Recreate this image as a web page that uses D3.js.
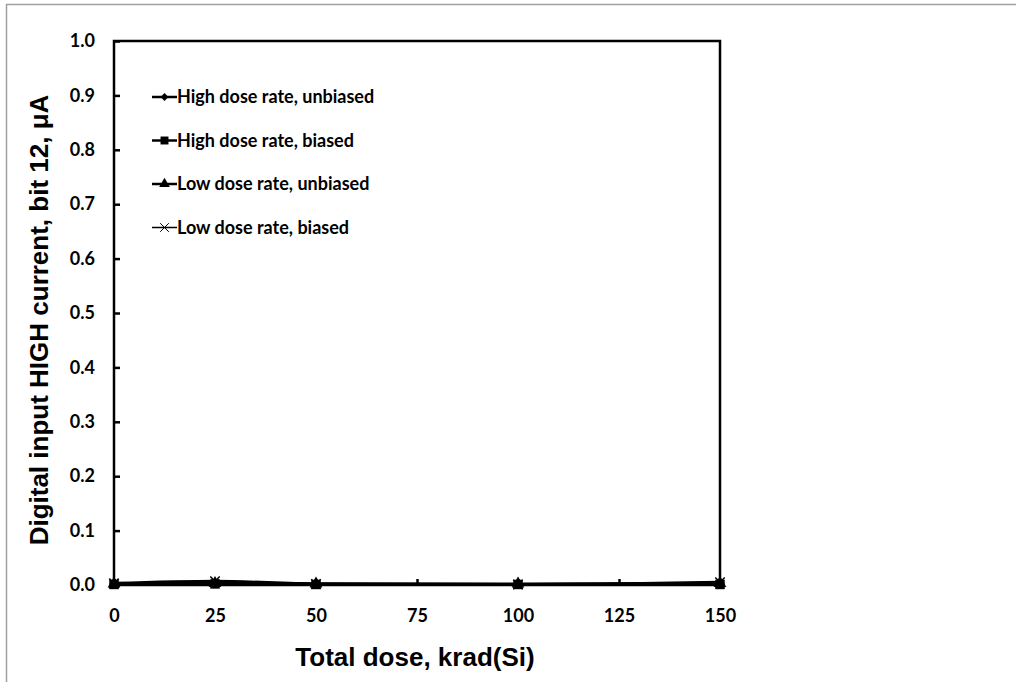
<!DOCTYPE html>
<html>
<head>
<meta charset="utf-8">
<script src="https://cdn.jsdelivr.net/npm/d3@7"></script>
<style>
  body { margin: 0; background: #fff; }
</style>
</head>
<body>
<div id="wrapper"></div>
<script>
const doses = [0, 25, 50, 100, 150];
const seriesNames = [
  'High dose rate, unbiased',
  'High dose rate, biased',
  'Low dose rate, unbiased',
  'Low dose rate, biased'
];
const hdrUnbiased = [0.002, 0.003, 0.002, 0.001, 0.002];
const hdrBiased = [0.001, 0.002, 0.001, 0.001, 0.001];
const ldrUnbiased = [0.002, 0.003, 0.002, 0.002, 0.003];
const ldrBiased = [0.003, 0.007, 0.002, 0.001, 0.005];
const xTicks = [0, 25, 50, 75, 100, 125, 150];
const yTicks = [0, 0.1, 0.2, 0.3, 0.4, 0.5, 0.6, 0.7, 0.8, 0.9, 1.0];

function drawChart() {
  const dimensions = {
    width: 1016,
    height: 682,
    margin: { top: 41, right: 296, bottom: 97, left: 114 },
  };
  dimensions.boundedWidth = dimensions.width - dimensions.margin.left - dimensions.margin.right;
  dimensions.boundedHeight = dimensions.height - dimensions.margin.top - dimensions.margin.bottom;

  const svg = d3.select('#wrapper')
    .append('svg')
    .attr('width', dimensions.width)
    .attr('height', dimensions.height);

  // grey outer frame (only top and left edges visible)
  svg.append('line').attr('x1', 6).attr('x2', 1016).attr('y1', 4.5).attr('y2', 4.5)
    .attr('stroke', '#a0a0a0').attr('stroke-width', 1.5);
  svg.append('line').attr('x1', 6.5).attr('x2', 6.5).attr('y1', 4).attr('y2', 682)
    .attr('stroke', '#a0a0a0').attr('stroke-width', 1.5);

  const bounds = svg.append('g')
    .attr('transform', `translate(${dimensions.margin.left}, ${dimensions.margin.top})`);

  const xScale = d3.scaleLinear().domain([0, 150]).range([0, dimensions.boundedWidth]);
  const yScale = d3.scaleLinear().domain([0, 1]).range([dimensions.boundedHeight, 0]);

  // plot frame
  bounds.append('rect')
    .attr('width', dimensions.boundedWidth)
    .attr('height', dimensions.boundedHeight)
    .attr('fill', 'none')
    .attr('stroke', '#000')
    .attr('stroke-width', 2.5);

  const xAxis = d3.axisBottom(xScale).tickValues(xTicks).tickSizeInner(-6).tickSizeOuter(0).tickPadding(24)
    .tickFormat(d3.format('d'));
  const yAxis = d3.axisLeft(yScale).tickValues(yTicks).tickSizeInner(-6).tickSizeOuter(0).tickPadding(19)
    .tickFormat(d3.format('.1f'));

  const xg = bounds.append('g').attr('transform', `translate(0, ${dimensions.boundedHeight})`).call(xAxis);
  const yg = bounds.append('g').call(yAxis);
  [xg, yg].forEach(g => {
    g.select('.domain').remove();
    g.selectAll('.tick line').attr('stroke', '#000').attr('stroke-width', 2.5);
    g.selectAll('.tick text')
      .attr('fill', '#000')
      .style('font-family', 'Lato, "Open Sans", sans-serif')
      .style('font-weight', 'bold')
      .style('font-size', '18px');
  });

  const allSeries = [hdrUnbiased, hdrBiased, ldrUnbiased, ldrBiased];
  const symbols = [d3.symbolDiamond2, d3.symbolSquare, d3.symbolTriangle, d3.symbolX];
  const symbolSizes = [55, 90, 70, 60];

  const line = d3.line()
    .x((d, i) => xScale(doses[i]))
    .y(d => yScale(d))
    .curve(d3.curveMonotoneX);

  allSeries.forEach((vals, s) => {
    bounds.append('path')
      .datum(vals)
      .attr('d', line)
      .attr('fill', 'none')
      .attr('stroke', '#000')
      .attr('stroke-width', 3);
    bounds.append('g').selectAll('path')
      .data(vals)
      .enter().append('path')
      .attr('transform', (d, i) => `translate(${xScale(doses[i])}, ${yScale(d)})`)
      .attr('d', d3.symbol(symbols[s], symbolSizes[s]))
      .attr('fill', '#000')
      .attr('stroke', '#000')
      .attr('stroke-width', s === 3 ? 1.5 : 0);
  });

  // legend
  const legend = svg.append('g').attr('transform', 'translate(152, 97)');
  const legendItems = legend.selectAll('g')
    .data(seriesNames)
    .enter().append('g')
    .attr('transform', (d, i) => `translate(0, ${i * 43.5})`);
  legendItems.append('line')
    .attr('x1', 0).attr('x2', 25)
    .attr('stroke', '#000')
    .attr('stroke-width', (d, i) => i === 3 ? 1.5 : 2.5);
  legendItems.append('path')
    .attr('transform', 'translate(12.5, 0)')
    .attr('d', (d, i) => d3.symbol(symbols[i], i === 3 ? 50 : symbolSizes[i] * 0.7)())
    .attr('fill', '#000')
    .attr('stroke', '#000')
    .attr('stroke-width', (d, i) => i === 3 ? 1 : 0);
  legendItems.append('text')
    .text(d => d)
    .attr('x', 25)
    .attr('dy', '0.35em')
    .style('font-family', 'Lato, "Open Sans", sans-serif')
    .style('font-weight', 'bold')
    .style('font-size', '18px');

  // axis titles
  svg.append('text')
    .text('Total dose, krad(Si)')
    .attr('x', dimensions.margin.left + dimensions.boundedWidth / 2 - 2)
    .attr('y', 666)
    .attr('text-anchor', 'middle')
    .style('font-family', '"Liberation Sans", Arial, sans-serif')
    .style('font-weight', 'bold')
    .style('font-size', '26px');

  svg.append('text')
    .text('Digital input HIGH current, bit 12, μA')
    .attr('transform', `translate(48, ${dimensions.margin.top + dimensions.boundedHeight / 2 + 7}) rotate(-90)`)
    .attr('text-anchor', 'middle')
    .style('font-family', '"Liberation Sans", Arial, sans-serif')
    .style('font-weight', 'bold')
    .style('font-size', '26px');
}

drawChart();
</script>
</body>
</html>
